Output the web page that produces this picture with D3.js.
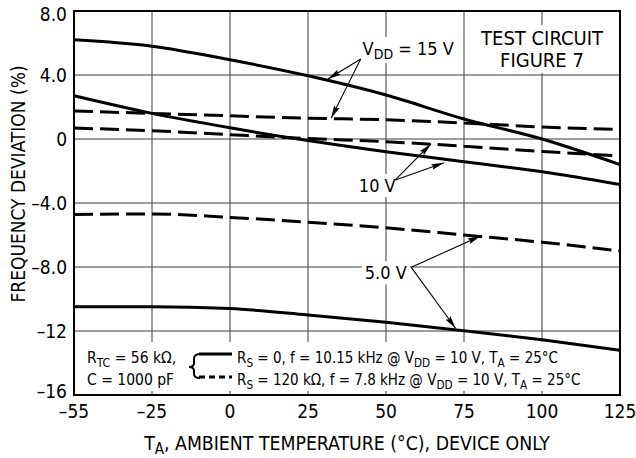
<!DOCTYPE html>
<html>
<head>
<meta charset="utf-8">
<script src="https://cdn.jsdelivr.net/npm/d3@7/dist/d3.min.js"></script>
<style>
  body { margin: 0; background: #fff; }
  text { font-family: "DejaVu Sans Condensed", "Liberation Sans Narrow", sans-serif; fill: #000; }
</style>
</head>
<body>
<svg id="chart" width="636" height="458"></svg>
<script>
// temperature points (°C) the curves were read at
const temps = [-55, -25, 0, 25, 50, 75, 100, 125];

// frequency deviation (%), solid = Rs 0, dashed = Rs 120k
const vdd15Solid = [6.2, 5.8, 4.95, 3.95, 2.75, 1.25, 0.0, -1.6];
const vdd15Dash  = [1.75, 1.6, 1.45, 1.3, 1.2, 1.0, 0.75, 0.6];
const vdd10Solid = [2.7, 1.6, 0.7, -0.1, -0.8, -1.42, -2.05, -2.85];
const vdd10Dash  = [0.68, 0.52, 0.27, 0.03, -0.17, -0.45, -0.78, -1.05];
const vdd5Dash   = [-4.72, -4.68, -4.9, -5.2, -5.55, -6.0, -6.45, -7.0];
const vdd5Solid  = [-10.48, -10.48, -10.6, -11.0, -11.45, -11.98, -12.55, -13.2];

const xTicks = [-55, -25, 0, 25, 50, 75, 100, 125];
const xTickLabels = ["–55", "–25", "0", "25", "50", "75", "100", "125"];
const yTicks = [8, 4, 0, -4, -8, -12, -16];
const yTickLabels = ["8.0", "4.0", "0", "–4.0", "–8.0", "–12", "–16"];

// callouts: label anchor [T, %] and arrow tips [T, %]
const callouts = [
  { parts: [["V"], ["DD", "sub"], [" = 15 V"]], at: [42.5, 5.25], from: [41.9, 5.0], tips: [[31.4, 3.75], [32.4, 1.3]] },
  { parts: [["10 V"]], at: [41.3, -3.31], from: [53, -2.56], tips: [[64.4, -0.31], [68.6, -1.48]] },
  { parts: [["5.0 V"]], at: [43.2, -8.77], from: [58.1, -8.02], tips: [[80.3, -6.06], [72.3, -11.83]] }
];

const svg = d3.select("#chart");
const plotLeft = 74, plotRight = 620, plotTop = 11, plotBottom = 395, legendTop = 342;

// the -55..-25 step is drawn as wide as the 25° steps
const x = d3.scaleLinear().domain([-55, -25, 125]).range([plotLeft, 152, plotRight]);
const y = d3.scaleLinear().domain([-16, 8]).range([plotBottom, plotTop]);

// writes a text made of plain and subscript pieces
function richText(g, parts, size) {
  const t = g.append("text").attr("font-size", size);
  let shifted = false;
  parts.forEach(p => {
    const s = t.append("tspan").text(p[0]);
    if (p[1] === "sub") {
      s.attr("font-size", size * 0.78).attr("dy", 4);
      shifted = true;
    } else if (shifted) {
      s.attr("dy", -4);
      shifted = false;
    }
  });
  return t;
}

// grid
const grid = svg.append("g").attr("stroke", "#3a3a3a").attr("stroke-width", 1);
grid.selectAll(".v").data(xTicks.slice(1, -1)).enter().append("line")
  .attr("x1", d => x(d)).attr("x2", d => x(d))
  .attr("y1", plotTop).attr("y2", legendTop);
grid.selectAll(".h").data(yTicks.slice(1, -1)).enter().append("line")
  .attr("x1", plotLeft).attr("x2", plotRight)
  .attr("y1", d => y(d)).attr("y2", d => y(d));
// small ticks along the bottom under the legend
grid.selectAll(".t").data(xTicks.slice(1, -1)).enter().append("line")
  .attr("x1", d => x(d)).attr("x2", d => x(d))
  .attr("y1", plotBottom - 4).attr("y2", plotBottom);

// tick labels
svg.append("g").selectAll("text").data(xTicks).enter().append("text")
  .attr("x", d => x(d)).attr("y", 418)
  .attr("text-anchor", "middle").attr("font-size", 19)
  .text((d, i) => xTickLabels[i]);
svg.append("g").selectAll("text").data(yTicks).enter().append("text")
  .attr("x", 67)
  .attr("y", d => y(d) + (d === 8 ? 10 : d === -16 ? 3 : 7))
  .attr("text-anchor", "end").attr("font-size", 19)
  .text((d, i) => yTickLabels[i]);

// axis titles
const xt = richText(svg.append("g"), [["T"], ["A", "sub"], [", AMBIENT TEMPERATURE (°C), DEVICE ONLY"]], 19.3);
xt.attr("x", (plotLeft + plotRight) / 2).attr("y", 450).attr("text-anchor", "middle");
svg.append("text")
  .attr("transform", "translate(25,184) rotate(-90)")
  .attr("text-anchor", "middle").attr("font-size", 19)
  .text("FREQUENCY DEVIATION (%)");

// label with white backing that hides the grid behind it
function boxedLabel(parts, px, py, size, anchor) {
  const g = svg.append("g");
  const t = richText(g, parts, size).attr("x", px).attr("y", py).attr("text-anchor", anchor || "start");
  const b = t.node().getBBox();
  g.insert("rect", "text")
    .attr("x", b.x - 3).attr("y", b.y - 1)
    .attr("width", b.width + 6).attr("height", b.height + 2)
    .attr("fill", "#fff");
  return g;
}

boxedLabel([["TEST CIRCUIT"]], x(100), y(5.875), 20, "middle");
boxedLabel([["FIGURE 7"]], x(100), y(4.5), 20, "middle");
callouts.forEach(c => boxedLabel(c.parts, x(c.at[0]), y(c.at[1]), 18));

// curves
const line = d3.line()
  .x((d, i) => x(temps[i]))
  .y(d => y(d))
  .curve(d3.curveMonotoneX);

const series = [
  { v: vdd15Solid, dash: null },
  { v: vdd15Dash, dash: "19,7" },
  { v: vdd10Solid, dash: null },
  { v: vdd10Dash, dash: "19,7" },
  { v: vdd5Dash, dash: "19,7" },
  { v: vdd5Solid, dash: null }
];
svg.append("g").selectAll("path").data(series).enter().append("path")
  .attr("d", d => line(d.v))
  .attr("fill", "none").attr("stroke", "#000").attr("stroke-width", 3)
  .attr("stroke-dasharray", d => d.dash);

// arrows
svg.append("defs").append("marker")
  .attr("id", "head").attr("markerUnits", "userSpaceOnUse")
  .attr("markerWidth", 13).attr("markerHeight", 7)
  .attr("refX", 13).attr("refY", 3.5).attr("orient", "auto")
  .append("path").attr("d", "M0,0.5 L13,3.5 L0,6.5 L2,3.5 z").attr("fill", "#000");

callouts.forEach(c => {
  c.tips.forEach(tp => {
    svg.append("line")
      .attr("x1", x(c.from[0])).attr("y1", y(c.from[1]))
      .attr("x2", x(tp[0])).attr("y2", y(tp[1]))
      .attr("stroke", "#000").attr("stroke-width", 1.1)
      .attr("marker-end", "url(#head)");
  });
});

// frame
svg.append("rect")
  .attr("x", plotLeft).attr("y", plotTop)
  .attr("width", plotRight - plotLeft).attr("height", plotBottom - plotTop)
  .attr("fill", "none").attr("stroke", "#000").attr("stroke-width", 2);

// legend
const leg = svg.append("g");
richText(leg, [["R"], ["TC", "sub"], [" = 56 kΩ,"]], 15.5).attr("x", 87).attr("y", 363);
richText(leg, [["C = 1000 pF"]], 15.5).attr("x", 87).attr("y", 385);
leg.append("path")
  .attr("d", "M200,354 Q194,354 194,359 L194,363 Q194,367 189,367 Q194,367 194,371 L194,374 Q194,378 200,378")
  .attr("fill", "none").attr("stroke", "#000").attr("stroke-width", 2);
leg.append("line").attr("x1", 199).attr("x2", 232).attr("y1", 354).attr("y2", 354)
  .attr("stroke", "#000").attr("stroke-width", 3);
leg.append("line").attr("x1", 199).attr("x2", 232).attr("y1", 377).attr("y2", 377)
  .attr("stroke", "#000").attr("stroke-width", 3).attr("stroke-dasharray", "6,4");
richText(leg, [["R"], ["S", "sub"], [" = 0, f = 10.15 kHz @ V"], ["DD", "sub"], [" = 10 V, T"], ["A", "sub"], [" = 25°C"]], 15)
  .attr("x", 237).attr("y", 363);
richText(leg, [["R"], ["S", "sub"], [" = 120 kΩ, f = 7.8 kHz @ V"], ["DD", "sub"], [" = 10 V, T"], ["A", "sub"], [" = 25°C"]], 15)
  .attr("x", 237).attr("y", 385);
</script>
</body>
</html>
